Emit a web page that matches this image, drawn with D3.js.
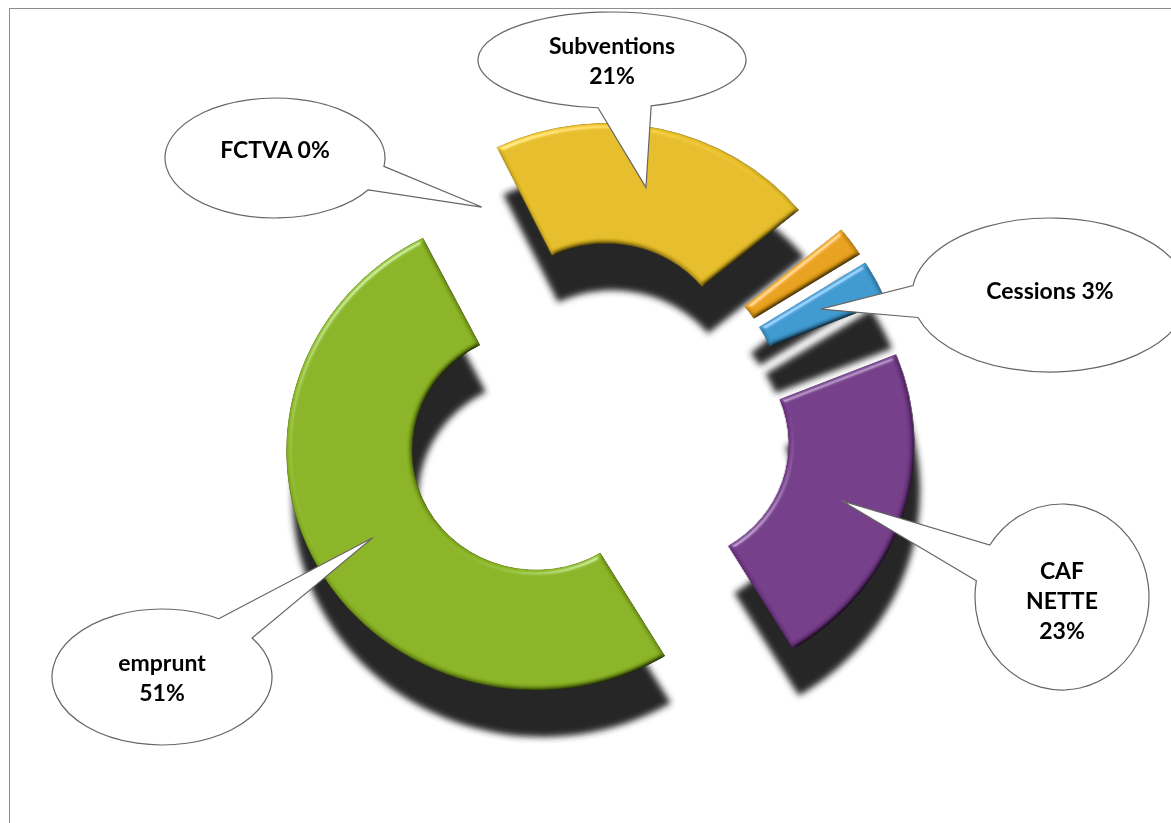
<!DOCTYPE html>
<html>
<head>
<meta charset="utf-8">
<script src="https://cdn.jsdelivr.net/npm/d3@7"></script>
<style>
  body { margin: 0; background: #fff; }
  svg { display: block; }
  .lbl { font-family: Lato, "Liberation Sans", sans-serif; font-weight: bold; font-size: 23px; fill: #000; }
</style>
</head>
<body>
<div id="chart"></div>
<script>
// data, clockwise from the top-left gap
var categories = ["FCTVA", "Subventions", "Autres", "Cessions", "CAF NETTE", "emprunt"];
var values = [0.3, 21.2, 2.0, 2.9, 22.5, 51.1];
var colors = ["#d9d9d9", "#e6be26", "#e8a116", "#3e99cf", "#743a89", "#8ab422"];

// layout
var W = 1171, H = 823;
var cx = 593, cy = 421, sx = 1.045;
var outerR = 239, innerR = 119;
var explode = [60, 60, 66, 66, 72, 62];
var start = -27 * Math.PI / 180;

// callout bubbles: ellipse, wedge base (param angles in deg), words per line, text shift
var callouts = [
  {i: 0, cx: 275, cy: 158, rx: 110, ry: 60, base: [8, 32], lines: [2], dy: -8},
  {i: 1, cx: 612, cy: 60, rx: 134, ry: 48, base: [73, 96], lines: [1, 1], dy: 1},
  {i: 3, cx: 1050, cy: 295, rx: 138, ry: 77, base: [163, 187], lines: [2], dy: -4},
  {i: 4, cx: 1062, cy: 597, rx: 87, ry: 93, base: [190, 214], lines: [1, 1, 1], dy: 4},
  {i: 5, cx: 162, cy: 677, rx: 110, ry: 68, base: [301, 325], lines: [1, 1], dy: 1}
];

var svg = d3.select("#chart").append("svg").attr("width", W).attr("height", H);
var defs = svg.append("defs");

var fs = defs.append("filter").attr("id", "shadowBlur")
  .attr("x", "-20%").attr("y", "-20%").attr("width", "140%").attr("height", "140%");
fs.append("feGaussianBlur").attr("stdDeviation", 3);

var fb = defs.append("filter").attr("id", "bevel")
  .attr("x", "-10%").attr("y", "-10%").attr("width", "120%").attr("height", "120%");
fb.append("feGaussianBlur").attr("in", "SourceAlpha").attr("stdDeviation", 2.5).attr("result", "b");
var dl = fb.append("feDiffuseLighting").attr("in", "b").attr("surfaceScale", 4)
  .attr("diffuseConstant", 1).attr("lighting-color", "#fff").attr("result", "d");
dl.append("feDistantLight").attr("azimuth", 235).attr("elevation", 55);
var sl = fb.append("feSpecularLighting").attr("in", "b").attr("surfaceScale", 4)
  .attr("specularConstant", 0.7).attr("specularExponent", 30)
  .attr("lighting-color", "#fff").attr("result", "s");
sl.append("feDistantLight").attr("azimuth", 235).attr("elevation", 35);
fb.append("feComposite").attr("in", "s").attr("in2", "SourceAlpha").attr("operator", "in").attr("result", "s2");
fb.append("feComposite").attr("in", "SourceGraphic").attr("in2", "d").attr("operator", "arithmetic")
  .attr("k1", 1.22).attr("k2", 0).attr("k3", 0).attr("k4", 0).attr("result", "lit");
fb.append("feComposite").attr("in", "s2").attr("in2", "lit").attr("operator", "arithmetic")
  .attr("k1", 0).attr("k2", 0.45).attr("k3", 1).attr("k4", 0).attr("result", "out");
fb.append("feComposite").attr("in", "out").attr("in2", "SourceAlpha").attr("operator", "in");

// frame
svg.append("path").attr("d", "M9.5," + H + "V8.5H" + W)
  .attr("fill", "none").attr("stroke", "#8c8c8c").attr("stroke-width", 1);

var pie = d3.pie().sort(null).value(function(d) { return d; })
  .startAngle(start).endAngle(start + 2 * Math.PI);
var arcs = pie(values);
arcs.forEach(function(d, i) { d.index = i; });
var arc = d3.arc().innerRadius(innerR).outerRadius(outerR);

function shift(d) {
  var m = (d.startAngle + d.endAngle) / 2;
  return [explode[d.index] * Math.sin(m), -explode[d.index] * Math.cos(m)];
}

var drawn = arcs.filter(function(d) { return d.value > 0.5; });

// shadows
var sh = svg.append("g")
  .attr("transform", "translate(" + (cx + 6) + "," + (cy + 47) + ") scale(" + sx + ",1)")
  .attr("filter", "url(#shadowBlur)");
sh.selectAll("path").data(drawn).enter().append("path")
  .attr("transform", function(d) { return "translate(" + shift(d) + ")"; })
  .attr("d", arc)
  .attr("fill", "#262626");

// slices
var g = svg.append("g")
  .attr("transform", "translate(" + cx + "," + cy + ") scale(" + sx + ",1)");
g.selectAll("path").data(drawn).enter().append("path")
  .attr("transform", function(d) { return "translate(" + shift(d) + ")"; })
  .attr("d", arc)
  .attr("fill", function(d) { return colors[d.index]; })
  .attr("stroke", function(d) { return d3.color(colors[d.index]).darker(0.7); })
  .attr("stroke-width", 0.8)
  .attr("filter", "url(#bevel)");

// callouts
function tipOf(d) {
  var s = shift(d), c = arc.centroid(d);
  return [cx + sx * (s[0] + c[0]), cy + s[1] + c[1]];
}

var cg = svg.append("g");
callouts.forEach(function(c) {
  var d = arcs[c.i];
  var tip = tipOf(d);
  var a = c.base[0] * Math.PI / 180, b = c.base[1] * Math.PI / 180;
  var p1 = [c.cx + c.rx * Math.cos(a), c.cy + c.ry * Math.sin(a)];
  var p2 = [c.cx + c.rx * Math.cos(b), c.cy + c.ry * Math.sin(b)];
  cg.append("path")
    .attr("d", "M" + p1 + "L" + tip + "L" + p2 + "A" + c.rx + "," + c.ry + " 0 1 1 " + p1 + "Z")
    .attr("fill", "#fff")
    .attr("stroke", "#666")
    .attr("stroke-width", 1.2);

  var words = (categories[c.i] + " " + Math.round(values[c.i]) + "%").split(" ");
  var lines = [], k = 0;
  c.lines.forEach(function(n) { lines.push(words.slice(k, k + n).join(" ")); k += n; });
  var lh = 30, y0 = c.cy + c.dy - (lines.length - 1) * lh / 2;
  var t = cg.append("text").attr("class", "lbl").attr("text-anchor", "middle");
  lines.forEach(function(l, j) {
    t.append("tspan").attr("x", c.cx).attr("y", y0 + j * lh).attr("dy", "0.35em").text(l);
  });
});
</script>
</body>
</html>
